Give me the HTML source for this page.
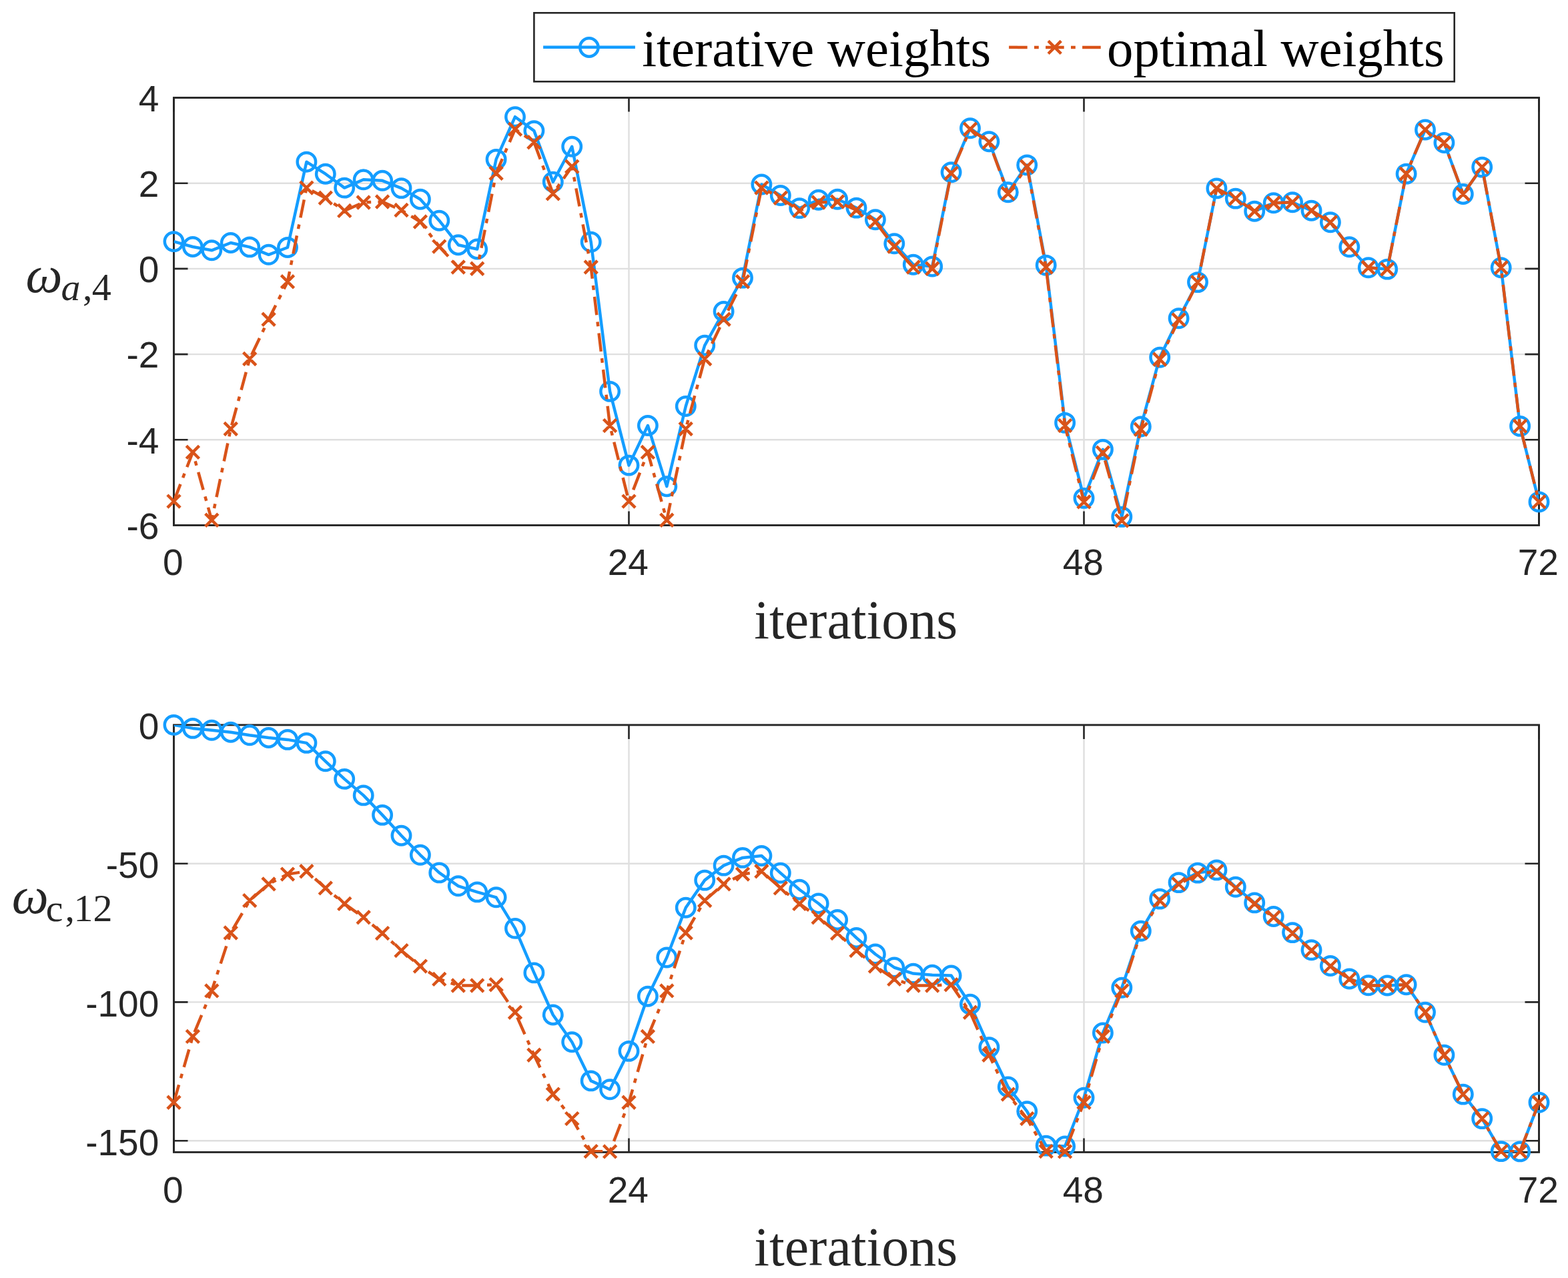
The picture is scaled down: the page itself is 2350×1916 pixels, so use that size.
<!DOCTYPE html>
<html><head><meta charset="utf-8"><title>iterative vs optimal weights</title>
<style>html,body{margin:0;padding:0;background:#fff;}body{width:2350px;height:1916px;overflow:hidden;}svg{display:block;}</style>
</head><body>
<svg width="2350" height="1916" viewBox="0 0 2350 1916">
<defs><clipPath id="ct"><rect x="260.5" y="146.5" width="2046.0" height="641.0"/></clipPath><clipPath id="cb"><rect x="260.5" y="1086.9" width="2046.0" height="640.5"/></clipPath></defs>
<rect width="2350" height="1916" fill="#fff"/>
<path d="M942.5,146.5V787.5M1624.5,146.5V787.5M260.5,274.7H2306.5M260.5,402.9H2306.5M260.5,531.1H2306.5M260.5,659.3H2306.5" stroke="#DFDFDF" stroke-width="2.4" fill="none"/>
<path d="M260.5,787.5v-21M260.5,146.5v21M942.5,787.5v-21M942.5,146.5v21M1624.5,787.5v-21M1624.5,146.5v21M2306.5,787.5v-21M2306.5,146.5v21M260.5,274.7h21M2306.5,274.7h-21M260.5,402.9h21M2306.5,402.9h-21M260.5,531.1h21M2306.5,531.1h-21M260.5,659.3h21M2306.5,659.3h-21" stroke="#262626" stroke-width="2.6" fill="none"/>
<rect x="260.5" y="146.5" width="2046.0" height="641.0" fill="none" stroke="#262626" stroke-width="2.9"/>
<g clip-path="url(#ct)"><path d="M260.5,362.1 L288.9,370.0 L317.3,375.3 L345.8,364.0 L374.2,370.4 L402.6,381.8 L431.0,371.0 L459.4,242.7 L487.8,260.7 L516.2,281.6 L544.7,269.3 L573.1,270.8 L601.5,282.1 L629.9,298.7 L658.3,330.7 L686.8,367.2 L715.2,373.5 L743.6,238.9 L772.0,175.2 L800.4,196.1 L828.8,272.7 L857.2,219.8 L885.7,362.8 L914.1,586.9 L942.5,697.6 L970.9,638.0 L999.3,729.2 L1027.8,609.0 L1056.2,517.8 L1084.6,467.0 L1113.0,416.6 L1141.4,276.5 L1169.8,293.0 L1198.2,312.1 L1226.7,299.7 L1255.1,298.7 L1283.5,311.6 L1311.9,329.2 L1340.3,365.3 L1368.8,396.7 L1397.2,399.5 L1425.6,258.3 L1454.0,192.3 L1482.4,212.2 L1510.8,288.3 L1539.2,247.4 L1567.7,397.6 L1596.1,633.9 L1624.5,746.9 L1652.9,673.9 L1681.3,774.9 L1709.8,639.5 L1738.2,535.8 L1766.6,477.3 L1795.0,423.1 L1823.4,282.4 L1851.8,297.6 L1880.2,316.7 L1908.7,304.3 L1937.1,303.3 L1965.5,315.7 L1993.9,333.3 L2022.3,370.3 L2050.8,401.3 L2079.2,403.6 L2107.6,260.6 L2136.0,194.5 L2164.4,214.0 L2192.8,291.0 L2221.2,250.6 L2249.7,401.2 L2278.1,638.9 L2306.5,752.4" fill="none" stroke="#149DFF" stroke-width="4.5" stroke-linejoin="round"/></g>
<g fill="none" stroke="#149DFF" stroke-width="4.5"><circle cx="260.5" cy="362.1" r="13.7"/><circle cx="288.9" cy="370.0" r="13.7"/><circle cx="317.3" cy="375.3" r="13.7"/><circle cx="345.8" cy="364.0" r="13.7"/><circle cx="374.2" cy="370.4" r="13.7"/><circle cx="402.6" cy="381.8" r="13.7"/><circle cx="431.0" cy="371.0" r="13.7"/><circle cx="459.4" cy="242.7" r="13.7"/><circle cx="487.8" cy="260.7" r="13.7"/><circle cx="516.2" cy="281.6" r="13.7"/><circle cx="544.7" cy="269.3" r="13.7"/><circle cx="573.1" cy="270.8" r="13.7"/><circle cx="601.5" cy="282.1" r="13.7"/><circle cx="629.9" cy="298.7" r="13.7"/><circle cx="658.3" cy="330.7" r="13.7"/><circle cx="686.8" cy="367.2" r="13.7"/><circle cx="715.2" cy="373.5" r="13.7"/><circle cx="743.6" cy="238.9" r="13.7"/><circle cx="772.0" cy="175.2" r="13.7"/><circle cx="800.4" cy="196.1" r="13.7"/><circle cx="828.8" cy="272.7" r="13.7"/><circle cx="857.2" cy="219.8" r="13.7"/><circle cx="885.7" cy="362.8" r="13.7"/><circle cx="914.1" cy="586.9" r="13.7"/><circle cx="942.5" cy="697.6" r="13.7"/><circle cx="970.9" cy="638.0" r="13.7"/><circle cx="999.3" cy="729.2" r="13.7"/><circle cx="1027.8" cy="609.0" r="13.7"/><circle cx="1056.2" cy="517.8" r="13.7"/><circle cx="1084.6" cy="467.0" r="13.7"/><circle cx="1113.0" cy="416.6" r="13.7"/><circle cx="1141.4" cy="276.5" r="13.7"/><circle cx="1169.8" cy="293.0" r="13.7"/><circle cx="1198.2" cy="312.1" r="13.7"/><circle cx="1226.7" cy="299.7" r="13.7"/><circle cx="1255.1" cy="298.7" r="13.7"/><circle cx="1283.5" cy="311.6" r="13.7"/><circle cx="1311.9" cy="329.2" r="13.7"/><circle cx="1340.3" cy="365.3" r="13.7"/><circle cx="1368.8" cy="396.7" r="13.7"/><circle cx="1397.2" cy="399.5" r="13.7"/><circle cx="1425.6" cy="258.3" r="13.7"/><circle cx="1454.0" cy="192.3" r="13.7"/><circle cx="1482.4" cy="212.2" r="13.7"/><circle cx="1510.8" cy="288.3" r="13.7"/><circle cx="1539.2" cy="247.4" r="13.7"/><circle cx="1567.7" cy="397.6" r="13.7"/><circle cx="1596.1" cy="633.9" r="13.7"/><circle cx="1624.5" cy="746.9" r="13.7"/><circle cx="1652.9" cy="673.9" r="13.7"/><circle cx="1681.3" cy="774.9" r="13.7"/><circle cx="1709.8" cy="639.5" r="13.7"/><circle cx="1738.2" cy="535.8" r="13.7"/><circle cx="1766.6" cy="477.3" r="13.7"/><circle cx="1795.0" cy="423.1" r="13.7"/><circle cx="1823.4" cy="282.4" r="13.7"/><circle cx="1851.8" cy="297.6" r="13.7"/><circle cx="1880.2" cy="316.7" r="13.7"/><circle cx="1908.7" cy="304.3" r="13.7"/><circle cx="1937.1" cy="303.3" r="13.7"/><circle cx="1965.5" cy="315.7" r="13.7"/><circle cx="1993.9" cy="333.3" r="13.7"/><circle cx="2022.3" cy="370.3" r="13.7"/><circle cx="2050.8" cy="401.3" r="13.7"/><circle cx="2079.2" cy="403.6" r="13.7"/><circle cx="2107.6" cy="260.6" r="13.7"/><circle cx="2136.0" cy="194.5" r="13.7"/><circle cx="2164.4" cy="214.0" r="13.7"/><circle cx="2192.8" cy="291.0" r="13.7"/><circle cx="2221.2" cy="250.6" r="13.7"/><circle cx="2249.7" cy="401.2" r="13.7"/><circle cx="2278.1" cy="638.9" r="13.7"/><circle cx="2306.5" cy="752.4" r="13.7"/></g>
<g clip-path="url(#ct)"><path d="M260.5,751.6 L288.9,677.9 L317.3,779.8 L345.8,643.0 L374.2,538.0 L402.6,478.7 L431.0,422.3 L459.4,281.6 L487.8,296.8 L516.2,315.9 L544.7,303.5 L573.1,302.5 L601.5,315.0 L629.9,332.5 L658.3,369.6 L686.8,400.5 L715.2,402.8 L743.6,259.8 L772.0,193.7 L800.4,213.2 L828.8,290.2 L857.2,249.8 L885.7,400.5 L914.1,638.1 L942.5,751.6 L970.9,677.9 L999.3,779.8 L1027.8,643.0 L1056.2,538.0 L1084.6,478.7 L1113.0,422.3 L1141.4,281.6 L1169.8,296.8 L1198.2,315.9 L1226.7,303.5 L1255.1,302.5 L1283.5,315.0 L1311.9,332.5 L1340.3,369.6 L1368.8,400.5 L1397.2,402.8 L1425.6,259.8 L1454.0,193.7 L1482.4,213.2 L1510.8,290.2 L1539.2,249.8 L1567.7,400.5 L1596.1,638.1 L1624.5,752.4 L1652.9,678.7 L1681.3,780.6 L1709.8,643.8 L1738.2,538.8 L1766.6,479.4 L1795.0,423.1 L1823.4,282.4 L1851.8,297.6 L1880.2,316.7 L1908.7,304.3 L1937.1,303.3 L1965.5,315.7 L1993.9,333.3 L2022.3,370.3 L2050.8,401.3 L2079.2,403.6 L2107.6,260.6 L2136.0,194.5 L2164.4,214.0 L2192.8,291.0 L2221.2,250.6 L2249.7,401.2 L2278.1,638.9 L2306.5,752.4" fill="none" stroke="#D95319" stroke-width="4.5" stroke-linejoin="round" stroke-dasharray="27.6 10.3 6.8 10.3"/></g>
<path d="M250.9,742.0L270.1,761.2M250.9,761.2L270.1,742.0M279.3,668.3L298.5,687.5M279.3,687.5L298.5,668.3M307.7,770.2L326.9,789.4M307.7,789.4L326.9,770.2M336.1,633.4L355.4,652.6M336.1,652.6L355.4,633.4M364.6,528.4L383.8,547.6M364.6,547.6L383.8,528.4M393.0,469.1L412.2,488.3M393.0,488.3L412.2,469.1M421.4,412.7L440.6,431.9M421.4,431.9L440.6,412.7M449.8,272.0L469.0,291.2M449.8,291.2L469.0,272.0M478.2,287.2L497.4,306.4M478.2,306.4L497.4,287.2M506.6,306.3L525.9,325.5M506.6,325.5L525.9,306.3M535.1,293.9L554.3,313.1M535.1,313.1L554.3,293.9M563.5,292.9L582.7,312.1M563.5,312.1L582.7,292.9M591.9,305.4L611.1,324.6M591.9,324.6L611.1,305.4M620.3,322.9L639.5,342.1M620.3,342.1L639.5,322.9M648.7,360.0L667.9,379.2M648.7,379.2L667.9,360.0M677.1,390.9L696.4,410.1M677.1,410.1L696.4,390.9M705.6,393.2L724.8,412.4M705.6,412.4L724.8,393.2M734.0,250.2L753.2,269.4M734.0,269.4L753.2,250.2M762.4,184.1L781.6,203.3M762.4,203.3L781.6,184.1M790.8,203.6L810.0,222.8M790.8,222.8L810.0,203.6M819.2,280.6L838.4,299.8M819.2,299.8L838.4,280.6M847.6,240.2L866.9,259.4M847.6,259.4L866.9,240.2M876.1,390.9L895.3,410.1M876.1,410.1L895.3,390.9M904.5,628.5L923.7,647.7M904.5,647.7L923.7,628.5M932.9,742.0L952.1,761.2M932.9,761.2L952.1,742.0M961.3,668.3L980.5,687.5M961.3,687.5L980.5,668.3M989.7,770.2L1008.9,789.4M989.7,789.4L1008.9,770.2M1018.1,633.4L1037.3,652.6M1018.1,652.6L1037.3,633.4M1046.6,528.4L1065.8,547.6M1046.6,547.6L1065.8,528.4M1075.0,469.1L1094.2,488.3M1075.0,488.3L1094.2,469.1M1103.4,412.7L1122.6,431.9M1103.4,431.9L1122.6,412.7M1131.8,272.0L1151.0,291.2M1131.8,291.2L1151.0,272.0M1160.2,287.2L1179.4,306.4M1160.2,306.4L1179.4,287.2M1188.7,306.3L1207.8,325.5M1188.7,325.5L1207.8,306.3M1217.1,293.9L1236.3,313.1M1217.1,313.1L1236.3,293.9M1245.5,292.9L1264.7,312.1M1245.5,312.1L1264.7,292.9M1273.9,305.4L1293.1,324.6M1273.9,324.6L1293.1,305.4M1302.3,322.9L1321.5,342.1M1302.3,342.1L1321.5,322.9M1330.7,360.0L1349.9,379.2M1330.7,379.2L1349.9,360.0M1359.2,390.9L1378.3,410.1M1359.2,410.1L1378.3,390.9M1387.6,393.2L1406.8,412.4M1387.6,412.4L1406.8,393.2M1416.0,250.2L1435.2,269.4M1416.0,269.4L1435.2,250.2M1444.4,184.1L1463.6,203.3M1444.4,203.3L1463.6,184.1M1472.8,203.6L1492.0,222.8M1472.8,222.8L1492.0,203.6M1501.2,280.6L1520.4,299.8M1501.2,299.8L1520.4,280.6M1529.7,240.2L1548.8,259.4M1529.7,259.4L1548.8,240.2M1558.1,390.9L1577.3,410.1M1558.1,410.1L1577.3,390.9M1586.5,628.5L1605.7,647.7M1586.5,647.7L1605.7,628.5M1614.9,742.8L1634.1,762.0M1614.9,762.0L1634.1,742.8M1643.3,669.1L1662.5,688.3M1643.3,688.3L1662.5,669.1M1671.7,771.0L1690.9,790.2M1671.7,790.2L1690.9,771.0M1700.2,634.2L1719.3,653.4M1700.2,653.4L1719.3,634.2M1728.6,529.2L1747.8,548.4M1728.6,548.4L1747.8,529.2M1757.0,469.8L1776.2,489.0M1757.0,489.0L1776.2,469.8M1785.4,413.5L1804.6,432.7M1785.4,432.7L1804.6,413.5M1813.8,272.8L1833.0,292.0M1813.8,292.0L1833.0,272.8M1842.2,288.0L1861.4,307.2M1842.2,307.2L1861.4,288.0M1870.7,307.1L1889.8,326.3M1870.7,326.3L1889.8,307.1M1899.1,294.7L1918.3,313.9M1899.1,313.9L1918.3,294.7M1927.5,293.7L1946.7,312.9M1927.5,312.9L1946.7,293.7M1955.9,306.1L1975.1,325.3M1955.9,325.3L1975.1,306.1M1984.3,323.7L2003.5,342.9M1984.3,342.9L2003.5,323.7M2012.7,360.7L2031.9,379.9M2012.7,379.9L2031.9,360.7M2041.2,391.7L2060.3,410.9M2041.2,410.9L2060.3,391.7M2069.6,394.0L2088.8,413.2M2069.6,413.2L2088.8,394.0M2098.0,251.0L2117.2,270.2M2098.0,270.2L2117.2,251.0M2126.4,184.9L2145.6,204.1M2126.4,204.1L2145.6,184.9M2154.8,204.4L2174.0,223.6M2154.8,223.6L2174.0,204.4M2183.2,281.4L2202.4,300.6M2183.2,300.6L2202.4,281.4M2211.7,241.0L2230.8,260.2M2211.7,260.2L2230.8,241.0M2240.1,391.6L2259.3,410.8M2240.1,410.8L2259.3,391.6M2268.5,629.3L2287.7,648.5M2268.5,648.5L2287.7,629.3M2296.9,742.8L2316.1,762.0M2296.9,762.0L2316.1,742.8" fill="none" stroke="#D95319" stroke-width="4.5"/>
<path d="M942.5,1086.9V1727.4M1624.5,1086.9V1727.4M260.5,1294.7H2306.5M260.5,1502.4H2306.5M260.5,1710.2H2306.5" stroke="#DFDFDF" stroke-width="2.4" fill="none"/>
<path d="M260.5,1727.4v-21M260.5,1086.9v21M942.5,1727.4v-21M942.5,1086.9v21M1624.5,1727.4v-21M1624.5,1086.9v21M2306.5,1727.4v-21M2306.5,1086.9v21M260.5,1294.7h21M2306.5,1294.7h-21M260.5,1502.4h21M2306.5,1502.4h-21M260.5,1710.2h21M2306.5,1710.2h-21" stroke="#262626" stroke-width="2.6" fill="none"/>
<rect x="260.5" y="1086.9" width="2046.0" height="640.5" fill="none" stroke="#262626" stroke-width="2.9"/>
<g clip-path="url(#cb)"><path d="M260.5,1086.9 L288.9,1091.9 L317.3,1094.8 L345.8,1097.7 L374.2,1102.3 L402.6,1106.0 L431.0,1108.9 L459.4,1113.9 L487.8,1141.3 L516.2,1167.9 L544.7,1192.4 L573.1,1221.9 L601.5,1252.7 L629.9,1281.8 L658.3,1308.4 L686.8,1328.3 L715.2,1337.4 L743.6,1345.3 L772.0,1391.9 L800.4,1458.4 L828.8,1521.5 L857.2,1562.2 L885.7,1620.4 L914.1,1633.3 L942.5,1575.9 L970.9,1493.7 L999.3,1435.5 L1027.8,1360.7 L1056.2,1319.6 L1084.6,1297.6 L1113.0,1285.9 L1141.4,1283.0 L1169.8,1308.8 L1198.2,1333.7 L1226.7,1354.5 L1255.1,1379.0 L1283.5,1406.0 L1311.9,1430.5 L1340.3,1450.5 L1368.8,1459.6 L1397.2,1461.7 L1425.6,1462.5 L1454.0,1505.7 L1482.4,1570.1 L1510.8,1629.5 L1539.2,1666.1 L1567.7,1717.6 L1596.1,1718.5 L1624.5,1645.7 L1652.9,1548.5 L1681.3,1480.8 L1709.8,1395.8 L1738.2,1347.6 L1766.6,1323.1 L1795.0,1308.6 L1823.4,1304.4 L1851.8,1329.8 L1880.2,1353.4 L1908.7,1374.0 L1937.1,1398.1 L1965.5,1424.3 L1993.9,1448.0 L2022.3,1467.5 L2050.8,1477.3 L2079.2,1477.5 L2107.6,1476.2 L2136.0,1517.8 L2164.4,1581.8 L2192.8,1640.6 L2221.2,1677.1 L2249.7,1726.1 L2278.1,1726.4 L2306.5,1652.8" fill="none" stroke="#149DFF" stroke-width="4.5" stroke-linejoin="round"/></g>
<g fill="none" stroke="#149DFF" stroke-width="4.5"><circle cx="260.5" cy="1086.9" r="13.7"/><circle cx="288.9" cy="1091.9" r="13.7"/><circle cx="317.3" cy="1094.8" r="13.7"/><circle cx="345.8" cy="1097.7" r="13.7"/><circle cx="374.2" cy="1102.3" r="13.7"/><circle cx="402.6" cy="1106.0" r="13.7"/><circle cx="431.0" cy="1108.9" r="13.7"/><circle cx="459.4" cy="1113.9" r="13.7"/><circle cx="487.8" cy="1141.3" r="13.7"/><circle cx="516.2" cy="1167.9" r="13.7"/><circle cx="544.7" cy="1192.4" r="13.7"/><circle cx="573.1" cy="1221.9" r="13.7"/><circle cx="601.5" cy="1252.7" r="13.7"/><circle cx="629.9" cy="1281.8" r="13.7"/><circle cx="658.3" cy="1308.4" r="13.7"/><circle cx="686.8" cy="1328.3" r="13.7"/><circle cx="715.2" cy="1337.4" r="13.7"/><circle cx="743.6" cy="1345.3" r="13.7"/><circle cx="772.0" cy="1391.9" r="13.7"/><circle cx="800.4" cy="1458.4" r="13.7"/><circle cx="828.8" cy="1521.5" r="13.7"/><circle cx="857.2" cy="1562.2" r="13.7"/><circle cx="885.7" cy="1620.4" r="13.7"/><circle cx="914.1" cy="1633.3" r="13.7"/><circle cx="942.5" cy="1575.9" r="13.7"/><circle cx="970.9" cy="1493.7" r="13.7"/><circle cx="999.3" cy="1435.5" r="13.7"/><circle cx="1027.8" cy="1360.7" r="13.7"/><circle cx="1056.2" cy="1319.6" r="13.7"/><circle cx="1084.6" cy="1297.6" r="13.7"/><circle cx="1113.0" cy="1285.9" r="13.7"/><circle cx="1141.4" cy="1283.0" r="13.7"/><circle cx="1169.8" cy="1308.8" r="13.7"/><circle cx="1198.2" cy="1333.7" r="13.7"/><circle cx="1226.7" cy="1354.5" r="13.7"/><circle cx="1255.1" cy="1379.0" r="13.7"/><circle cx="1283.5" cy="1406.0" r="13.7"/><circle cx="1311.9" cy="1430.5" r="13.7"/><circle cx="1340.3" cy="1450.5" r="13.7"/><circle cx="1368.8" cy="1459.6" r="13.7"/><circle cx="1397.2" cy="1461.7" r="13.7"/><circle cx="1425.6" cy="1462.5" r="13.7"/><circle cx="1454.0" cy="1505.7" r="13.7"/><circle cx="1482.4" cy="1570.1" r="13.7"/><circle cx="1510.8" cy="1629.5" r="13.7"/><circle cx="1539.2" cy="1666.1" r="13.7"/><circle cx="1567.7" cy="1717.6" r="13.7"/><circle cx="1596.1" cy="1718.5" r="13.7"/><circle cx="1624.5" cy="1645.7" r="13.7"/><circle cx="1652.9" cy="1548.5" r="13.7"/><circle cx="1681.3" cy="1480.8" r="13.7"/><circle cx="1709.8" cy="1395.8" r="13.7"/><circle cx="1738.2" cy="1347.6" r="13.7"/><circle cx="1766.6" cy="1323.1" r="13.7"/><circle cx="1795.0" cy="1308.6" r="13.7"/><circle cx="1823.4" cy="1304.4" r="13.7"/><circle cx="1851.8" cy="1329.8" r="13.7"/><circle cx="1880.2" cy="1353.4" r="13.7"/><circle cx="1908.7" cy="1374.0" r="13.7"/><circle cx="1937.1" cy="1398.1" r="13.7"/><circle cx="1965.5" cy="1424.3" r="13.7"/><circle cx="1993.9" cy="1448.0" r="13.7"/><circle cx="2022.3" cy="1467.5" r="13.7"/><circle cx="2050.8" cy="1477.3" r="13.7"/><circle cx="2079.2" cy="1477.5" r="13.7"/><circle cx="2107.6" cy="1476.2" r="13.7"/><circle cx="2136.0" cy="1517.8" r="13.7"/><circle cx="2164.4" cy="1581.8" r="13.7"/><circle cx="2192.8" cy="1640.6" r="13.7"/><circle cx="2221.2" cy="1677.1" r="13.7"/><circle cx="2249.7" cy="1726.1" r="13.7"/><circle cx="2278.1" cy="1726.4" r="13.7"/><circle cx="2306.5" cy="1652.8" r="13.7"/></g>
<g clip-path="url(#cb)"><path d="M260.5,1652.8 L288.9,1553.9 L317.3,1485.4 L345.8,1398.5 L374.2,1350.1 L402.6,1325.4 L431.0,1310.6 L459.4,1306.3 L487.8,1331.4 L516.2,1354.9 L544.7,1375.3 L573.1,1399.1 L601.5,1425.1 L629.9,1448.6 L658.3,1467.9 L686.8,1477.5 L715.2,1477.5 L743.6,1476.2 L772.0,1517.8 L800.4,1581.8 L828.8,1640.6 L857.2,1677.1 L885.7,1726.1 L914.1,1726.4 L942.5,1652.8 L970.9,1553.9 L999.3,1485.4 L1027.8,1398.5 L1056.2,1350.1 L1084.6,1325.4 L1113.0,1310.6 L1141.4,1306.3 L1169.8,1331.4 L1198.2,1354.9 L1226.7,1375.3 L1255.1,1399.1 L1283.5,1425.1 L1311.9,1448.6 L1340.3,1467.9 L1368.8,1477.5 L1397.2,1477.5 L1425.6,1476.2 L1454.0,1517.8 L1482.4,1581.8 L1510.8,1640.6 L1539.2,1677.1 L1567.7,1726.1 L1596.1,1726.4 L1624.5,1652.8 L1652.9,1553.9 L1681.3,1485.4 L1709.8,1398.5 L1738.2,1350.1 L1766.6,1325.4 L1795.0,1310.6 L1823.4,1306.3 L1851.8,1331.4 L1880.2,1354.9 L1908.7,1375.3 L1937.1,1399.1 L1965.5,1425.1 L1993.9,1448.6 L2022.3,1467.9 L2050.8,1477.5 L2079.2,1477.5 L2107.6,1476.2 L2136.0,1517.8 L2164.4,1581.8 L2192.8,1640.6 L2221.2,1677.1 L2249.7,1726.1 L2278.1,1726.4 L2306.5,1652.8" fill="none" stroke="#D95319" stroke-width="4.5" stroke-linejoin="round" stroke-dasharray="27.6 10.3 6.8 10.3"/></g>
<path d="M250.9,1643.2L270.1,1662.4M250.9,1662.4L270.1,1643.2M279.3,1544.3L298.5,1563.5M279.3,1563.5L298.5,1544.3M307.7,1475.8L326.9,1495.0M307.7,1495.0L326.9,1475.8M336.1,1388.9L355.4,1408.1M336.1,1408.1L355.4,1388.9M364.6,1340.5L383.8,1359.7M364.6,1359.7L383.8,1340.5M393.0,1315.8L412.2,1335.0M393.0,1335.0L412.2,1315.8M421.4,1301.0L440.6,1320.2M421.4,1320.2L440.6,1301.0M449.8,1296.7L469.0,1315.9M449.8,1315.9L469.0,1296.7M478.2,1321.8L497.4,1341.0M478.2,1341.0L497.4,1321.8M506.6,1345.3L525.9,1364.5M506.6,1364.5L525.9,1345.3M535.1,1365.7L554.3,1384.9M535.1,1384.9L554.3,1365.7M563.5,1389.5L582.7,1408.7M563.5,1408.7L582.7,1389.5M591.9,1415.5L611.1,1434.7M591.9,1434.7L611.1,1415.5M620.3,1439.0L639.5,1458.2M620.3,1458.2L639.5,1439.0M648.7,1458.3L667.9,1477.5M648.7,1477.5L667.9,1458.3M677.1,1467.9L696.4,1487.1M677.1,1487.1L696.4,1467.9M705.6,1467.9L724.8,1487.1M705.6,1487.1L724.8,1467.9M734.0,1466.6L753.2,1485.8M734.0,1485.8L753.2,1466.6M762.4,1508.2L781.6,1527.4M762.4,1527.4L781.6,1508.2M790.8,1572.2L810.0,1591.4M790.8,1591.4L810.0,1572.2M819.2,1631.0L838.4,1650.2M819.2,1650.2L838.4,1631.0M847.6,1667.5L866.9,1686.7M847.6,1686.7L866.9,1667.5M876.1,1716.5L895.3,1735.7M876.1,1735.7L895.3,1716.5M904.5,1716.8L923.7,1736.0M904.5,1736.0L923.7,1716.8M932.9,1643.2L952.1,1662.4M932.9,1662.4L952.1,1643.2M961.3,1544.3L980.5,1563.5M961.3,1563.5L980.5,1544.3M989.7,1475.8L1008.9,1495.0M989.7,1495.0L1008.9,1475.8M1018.1,1388.9L1037.3,1408.1M1018.1,1408.1L1037.3,1388.9M1046.6,1340.5L1065.8,1359.7M1046.6,1359.7L1065.8,1340.5M1075.0,1315.8L1094.2,1335.0M1075.0,1335.0L1094.2,1315.8M1103.4,1301.0L1122.6,1320.2M1103.4,1320.2L1122.6,1301.0M1131.8,1296.7L1151.0,1315.9M1131.8,1315.9L1151.0,1296.7M1160.2,1321.8L1179.4,1341.0M1160.2,1341.0L1179.4,1321.8M1188.7,1345.3L1207.8,1364.5M1188.7,1364.5L1207.8,1345.3M1217.1,1365.7L1236.3,1384.9M1217.1,1384.9L1236.3,1365.7M1245.5,1389.5L1264.7,1408.7M1245.5,1408.7L1264.7,1389.5M1273.9,1415.5L1293.1,1434.7M1273.9,1434.7L1293.1,1415.5M1302.3,1439.0L1321.5,1458.2M1302.3,1458.2L1321.5,1439.0M1330.7,1458.3L1349.9,1477.5M1330.7,1477.5L1349.9,1458.3M1359.2,1467.9L1378.3,1487.1M1359.2,1487.1L1378.3,1467.9M1387.6,1467.9L1406.8,1487.1M1387.6,1487.1L1406.8,1467.9M1416.0,1466.6L1435.2,1485.8M1416.0,1485.8L1435.2,1466.6M1444.4,1508.2L1463.6,1527.4M1444.4,1527.4L1463.6,1508.2M1472.8,1572.2L1492.0,1591.4M1472.8,1591.4L1492.0,1572.2M1501.2,1631.0L1520.4,1650.2M1501.2,1650.2L1520.4,1631.0M1529.7,1667.5L1548.8,1686.7M1529.7,1686.7L1548.8,1667.5M1558.1,1716.5L1577.3,1735.7M1558.1,1735.7L1577.3,1716.5M1586.5,1716.8L1605.7,1736.0M1586.5,1736.0L1605.7,1716.8M1614.9,1643.2L1634.1,1662.4M1614.9,1662.4L1634.1,1643.2M1643.3,1544.3L1662.5,1563.5M1643.3,1563.5L1662.5,1544.3M1671.7,1475.8L1690.9,1495.0M1671.7,1495.0L1690.9,1475.8M1700.2,1388.9L1719.3,1408.1M1700.2,1408.1L1719.3,1388.9M1728.6,1340.5L1747.8,1359.7M1728.6,1359.7L1747.8,1340.5M1757.0,1315.8L1776.2,1335.0M1757.0,1335.0L1776.2,1315.8M1785.4,1301.0L1804.6,1320.2M1785.4,1320.2L1804.6,1301.0M1813.8,1296.7L1833.0,1315.9M1813.8,1315.9L1833.0,1296.7M1842.2,1321.8L1861.4,1341.0M1842.2,1341.0L1861.4,1321.8M1870.7,1345.3L1889.8,1364.5M1870.7,1364.5L1889.8,1345.3M1899.1,1365.7L1918.3,1384.9M1899.1,1384.9L1918.3,1365.7M1927.5,1389.5L1946.7,1408.7M1927.5,1408.7L1946.7,1389.5M1955.9,1415.5L1975.1,1434.7M1955.9,1434.7L1975.1,1415.5M1984.3,1439.0L2003.5,1458.2M1984.3,1458.2L2003.5,1439.0M2012.7,1458.3L2031.9,1477.5M2012.7,1477.5L2031.9,1458.3M2041.2,1467.9L2060.3,1487.1M2041.2,1487.1L2060.3,1467.9M2069.6,1467.9L2088.8,1487.1M2069.6,1487.1L2088.8,1467.9M2098.0,1466.6L2117.2,1485.8M2098.0,1485.8L2117.2,1466.6M2126.4,1508.2L2145.6,1527.4M2126.4,1527.4L2145.6,1508.2M2154.8,1572.2L2174.0,1591.4M2154.8,1591.4L2174.0,1572.2M2183.2,1631.0L2202.4,1650.2M2183.2,1650.2L2202.4,1631.0M2211.7,1667.5L2230.8,1686.7M2211.7,1686.7L2230.8,1667.5M2240.1,1716.5L2259.3,1735.7M2240.1,1735.7L2259.3,1716.5M2268.5,1716.8L2287.7,1736.0M2268.5,1736.0L2287.7,1716.8M2296.9,1643.2L2316.1,1662.4M2296.9,1662.4L2316.1,1643.2" fill="none" stroke="#D95319" stroke-width="4.5"/>
<g style="font-family:'Liberation Sans',Arial,Helvetica,sans-serif;font-size:55px" fill="#262626">
<text x="238.3" y="166.7" text-anchor="end">4</text>
<text x="238.3" y="294.9" text-anchor="end">2</text>
<text x="238.3" y="423.1" text-anchor="end">0</text>
<text x="238.3" y="551.3" text-anchor="end">-2</text>
<text x="238.3" y="679.5" text-anchor="end">-4</text>
<text x="238.3" y="807.7" text-anchor="end">-6</text>
<text x="238.3" y="1108.2" text-anchor="end">0</text>
<text x="238.3" y="1316.0" text-anchor="end">-50</text>
<text x="238.3" y="1523.7" text-anchor="end">-100</text>
<text x="238.3" y="1731.5" text-anchor="end">-150</text>
<text x="259.3" y="861.9" text-anchor="middle">0</text>
<text x="941.3" y="861.9" text-anchor="middle">24</text>
<text x="1623.3" y="861.9" text-anchor="middle">48</text>
<text x="2305.3" y="861.9" text-anchor="middle">72</text>
<text x="259.3" y="1803.0" text-anchor="middle">0</text>
<text x="941.3" y="1803.0" text-anchor="middle">24</text>
<text x="1623.3" y="1803.0" text-anchor="middle">48</text>
<text x="2305.3" y="1803.0" text-anchor="middle">72</text>
</g>
<g style="font-family:'Liberation Serif','Times New Roman',Times,serif;font-size:82px" fill="#262626">
<text x="1282.7" y="956.9" text-anchor="middle">iterations</text>
<text x="1282.7" y="1897.2" text-anchor="middle">iterations</text>
</g>
<g style="font-family:'Liberation Serif','Times New Roman',Times,serif" fill="#262626">
<text x="38.6" y="437.7" style="font-style:italic;font-size:78px">ω</text>
<text x="91.4" y="449.8" style="font-style:italic;font-size:58px">a</text>
<text x="123.9" y="449.8" style="font-size:58px">,</text>
<text x="137.7" y="449.8" style="font-size:58px">4</text>
<text x="17.7" y="1368.7" style="font-style:italic;font-size:78px">ω</text>
<text x="68.8" y="1380.7" style="font-size:58px">c</text>
<text x="97.6" y="1380.7" style="font-size:58px">,</text>
<text x="110.6" y="1380.7" style="font-size:58px">12</text>
</g>
<rect x="800.4" y="19.3" width="1379.3" height="103" fill="#fff" stroke="#262626" stroke-width="2.6"/>
<path d="M814.1,70.8H951.9" stroke="#149DFF" stroke-width="4.5"/>
<circle cx="882.9" cy="71" r="13.7" fill="none" stroke="#149DFF" stroke-width="4.5"/>
<path d="M1512.1,70.9H1649.8" stroke="#D95319" stroke-width="4.5" stroke-dasharray="27.6 10.3 6.8 10.3"/>
<path d="M1571.1,61.3L1590.3,80.5M1571.1,80.5L1590.3,61.3" fill="none" stroke="#D95319" stroke-width="4.5"/>
<g style="font-family:'Liberation Serif','Times New Roman',Times,serif;font-size:78.8px" fill="#000">
<text x="962.2" y="98.6">iterative weights</text>
<text x="1659.1" y="98.6">optimal weights</text>
</g>
</svg>
</body></html>
